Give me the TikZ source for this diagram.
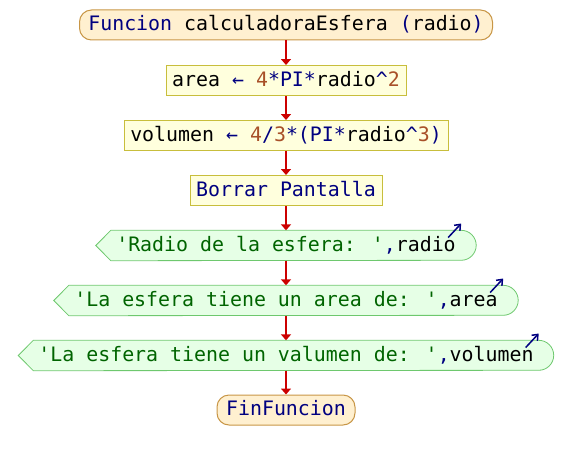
\documentclass[tikz,border=0pt]{standalone}
\usepackage{fontspec}
\newfontfamily\codefont{DejaVu Sans Mono}
\usetikzlibrary{arrows.meta,backgrounds}

\definecolor{termfill}{RGB}{255,240,208}
\definecolor{termline}{RGB}{200,150,70}
\definecolor{procfill}{RGB}{255,255,221}
\definecolor{procline}{RGB}{200,190,60}
\definecolor{outfill}{RGB}{230,255,230}
\definecolor{outborder}{RGB}{110,200,110}
\definecolor{flowred}{RGB}{204,0,0}
\definecolor{navy}{RGB}{0,0,128}
\definecolor{strgreen}{RGB}{0,100,0}
\definecolor{numbrown}{RGB}{168,80,40}

% syntax colouring helpers
\newcommand\kw[1]{\textcolor{navy}{#1}}
\newcommand\numlit[1]{\textcolor{numbrown}{#1}}
\newcommand\strlit[1]{\textcolor{strgreen}{#1}}

\begin{document}
\begin{tikzpicture}[x=1pt,y=-1pt,
  every node/.style={font=\codefont\fontsize{19.9}{24}\selectfont,
    inner sep=0pt, minimum height=30pt, text height=15pt, text depth=4pt},
  terminal/.style={draw=termline, fill=termfill, rounded corners=12pt, line width=1pt},
  procbox/.style={draw=procline, fill=procfill, line width=1pt},
  outshape/.style={draw=outborder, fill=outfill, line width=0.8pt},
  flow/.style={draw=flowred, line width=2pt, -{Triangle[width=10pt,length=6pt]}},
  varmark/.style={draw=navy, line width=1.5pt, -{Straight Barb[length=5pt,width=8pt]}}
]
\useasboundingbox (0,0) rectangle (572,460);

% procedure header and body
\node[terminal, minimum width=413pt] (ini) at (286,25)
  {\kw{Funcion} calculadoraEsfera \kw{(}radio\kw{)}};
\node[procbox, minimum width=240pt] (area) at (286,80.5)
  {area \kw{←} \numlit{4}\kw{*PI*}radio\kw{\textasciicircum}\numlit{2}};
\node[procbox, minimum width=324pt] (vol) at (286,135.5)
  {volumen \kw{←} \numlit{4}\kw{/}\numlit{3}\kw{*(PI*}radio\kw{\textasciicircum}\numlit{3}\kw{)}};
\node[procbox, minimum width=192pt] (borrar) at (286,190.5)
  {\kw{Borrar Pantalla}};

% output statements
\node[minimum width=380pt] (o1) at (286,245.5)
  {\strlit{'Radio de la esfera: '}\kw{,}radio};
\node[minimum width=464pt] (o2) at (286,300.5)
  {\strlit{'La esfera tiene un area de: '}\kw{,}area};
\node[minimum width=535pt] (o3) at (286,355.5)
  {\strlit{'La esfera tiene un valumen de: '}\kw{,}volumen};

\node[terminal, minimum width=138pt] (fin) at (286,410) {\kw{FinFuncion}};

% output shapes: pointed left end, round right end
\begin{scope}[on background layer]
  \foreach \n in {o1,o2,o3}
    \draw[outshape] (\n.west) -- ([xshift=15pt]\n.north west)
      -- ([xshift=-15pt]\n.north east) arc[start angle=90, end angle=-90, radius=15pt]
      -- ([xshift=15pt]\n.south west) -- cycle;
\end{scope}

% flow
\draw[flow] (ini.south) -- (area.north);
\draw[flow] (area.south) -- (vol.north);
\draw[flow] (vol.south) -- (borrar.north);
\draw[flow] (borrar.south) -- (o1.north);
\draw[flow] (o1.south) -- (o2.north);
\draw[flow] (o2.south) -- (o3.north);
\draw[flow] (o3.south) -- (fin.north);

% output markers
\foreach \n in {o1,o2,o3}
  \draw[varmark] ([shift={(-28pt,8pt)}]\n.east) -- ([shift={(-15pt,22pt)}]\n.east);
\end{tikzpicture}
\end{document}
